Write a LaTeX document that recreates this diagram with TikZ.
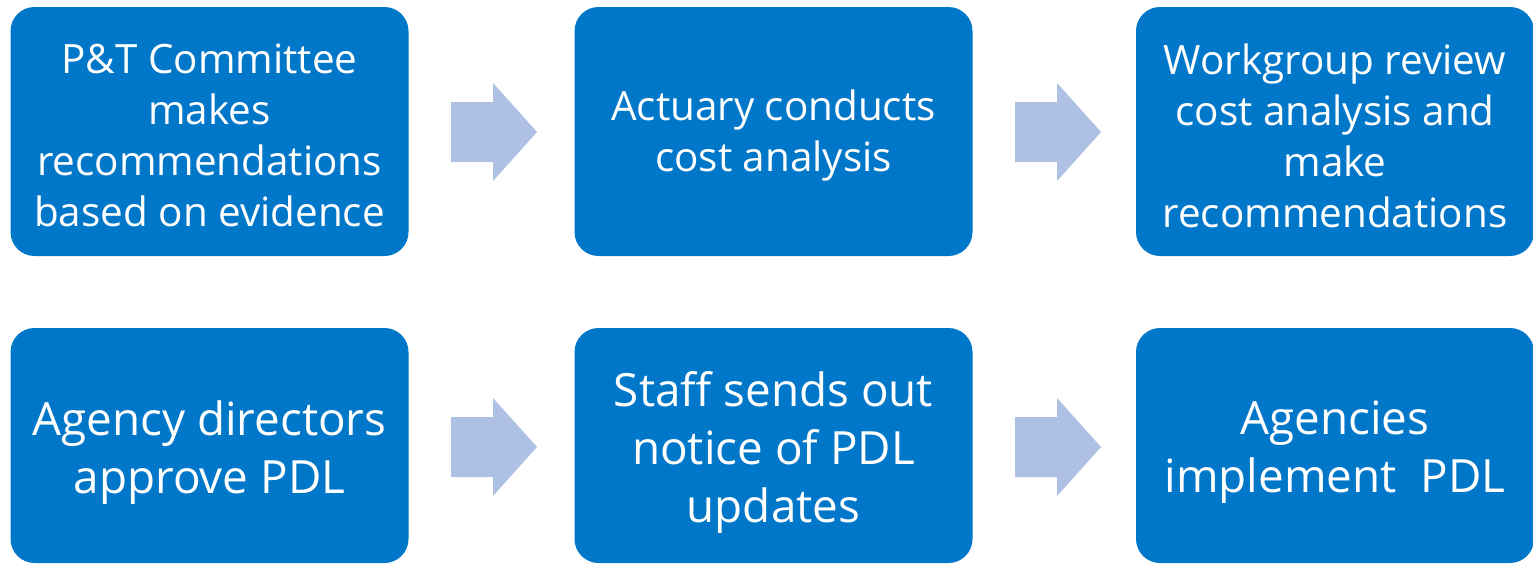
\documentclass[tikz,border=0pt]{standalone}
\usepackage{fontspec}
\setmainfont{Open Sans}
\begin{document}
\begin{tikzpicture}[x=1pt,y=-1pt,
  stepbox/.style={fill=boxblue, draw=none, rounded corners=24pt,
    inner sep=0pt, minimum width=398pt},
  toprow/.style={stepbox, minimum height=249pt},
  botrow/.style={stepbox, minimum height=235pt},
  toptext/.style={text=white, align=center, font=\fontsize{40.4}{51}\selectfont, yshift=-4pt},
  bottext/.style={text=white, align=center, font=\fontsize{45.8}{58}\selectfont, yshift=-7pt},
  flowarrow/.style={fill=arrowblue, draw=none}
]
\definecolor{boxblue}{RGB}{0,119,200}
\definecolor{arrowblue}{RGB}{174,192,227}
\useasboundingbox (0,0) rectangle (1533,565);
\node[toprow] (b1) at (209.5,131.5) {};
\node[toprow] (b2) at (773.5,131.5) {};
\node[toprow] (b3) at (1335,131.5) {};
\node[botrow] (b4) at (209.5,445.5) {};
\node[botrow] (b5) at (773.5,445.5) {};
\node[botrow] (b6) at (1335,445.5) {};
\node[toptext] (t1) at (b1.center) {P\&T Committee\\makes\\recommendations\\based on evidence};
\node[toptext] (t2) at (b2.center) {Actuary conducts\\cost analysis};
\node[toptext] (t3) at (b3.center) {Workgroup review\\cost analysis and\\make\\recommendations};
\node[bottext] (t4) at (b4.center) {Agency directors\\approve PDL};
\node[bottext] (t5) at (b5.center) {Staff sends out\\notice of PDL\\updates};
\node[bottext] (t6) at (b6.center) {Agencies\\implement\ \ PDL};
% block arrows
\foreach \x/\y in {451/132, 1015/132, 451/447, 1015/447}{
  \fill[flowarrow] (\x,\y-30) -- (\x+42,\y-30) -- (\x+42,\y-49) -- (\x+86,\y) --
    (\x+42,\y+49) -- (\x+42,\y+30) -- (\x,\y+30) -- cycle;
}
\end{tikzpicture}
\end{document}
